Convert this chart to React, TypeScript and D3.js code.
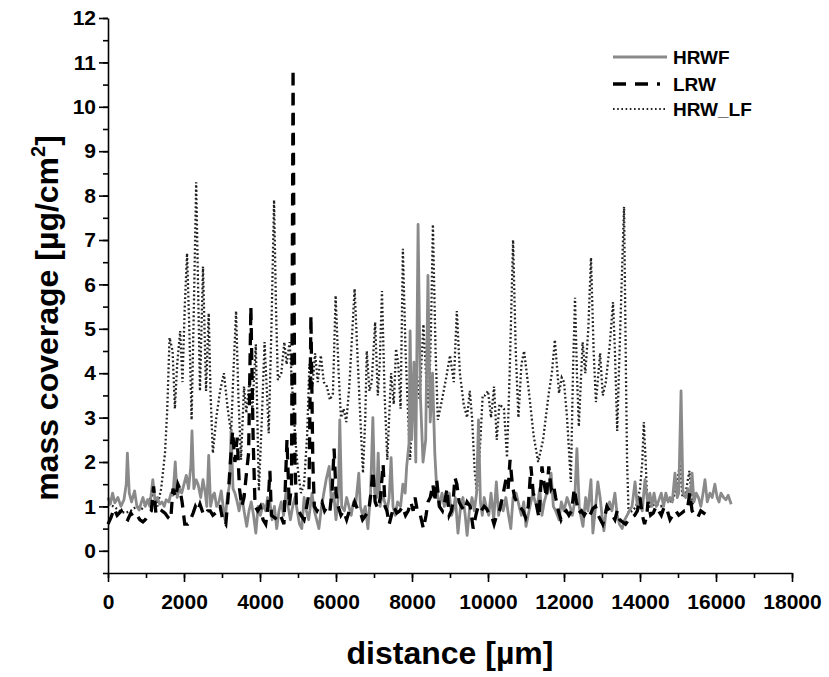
import { useEffect, useRef } from "react";
import * as d3 from "d3";

// [distance µm, mass coverage µg/cm2]
const hrwLF: [number, number][] = [
  [0, 1.05], [150, 1.0], [300, 0.9], [450, 0.85], [600, 0.9], [750, 1.0], [900, 0.95], [1050, 1.1],
  [1200, 1.3], [1300, 1.0], [1400, 1.4], [1500, 2.2], [1560, 3.2], [1620, 4.8], [1700, 4.5], [1760, 3.2],
  [1820, 4.2], [1900, 4.95], [1960, 3.8], [2020, 5.5], [2080, 6.7], [2140, 5.0], [2200, 2.95], [2260, 5.5],
  [2320, 8.3], [2380, 5.5], [2420, 3.6], [2500, 6.4], [2580, 3.6], [2650, 5.35], [2700, 3.5], [2760, 2.2],
  [2850, 3.0], [2950, 3.6], [3050, 4.0], [3150, 3.2], [3240, 2.65], [3300, 4.0], [3370, 5.4], [3430, 3.5],
  [3500, 2.05], [3580, 3.7], [3640, 3.1], [3720, 3.8], [3800, 3.2], [3890, 4.65], [3970, 1.35], [4050, 3.0],
  [4120, 4.7], [4180, 3.6], [4230, 2.65], [4300, 5.0], [4370, 7.9], [4420, 5.5], [4470, 3.85], [4560, 4.0],
  [4640, 4.7], [4700, 4.2], [4780, 4.7], [4860, 3.5], [4940, 2.4], [5000, 1.8], [5080, 1.3], [5160, 1.5],
  [5240, 2.6], [5300, 4.2], [5380, 3.7], [5450, 4.45], [5520, 3.8], [5600, 4.4], [5680, 3.8], [5760, 3.7],
  [5840, 3.4], [5920, 3.55], [5990, 5.75], [6070, 4.0], [6130, 3.0], [6200, 3.2], [6270, 2.9], [6350, 3.7],
  [6420, 4.8], [6490, 5.9], [6560, 4.5], [6640, 3.0], [6710, 1.75], [6770, 3.0], [6810, 4.5], [6880, 3.6],
  [6940, 3.8], [7030, 5.15], [7100, 3.5], [7150, 4.2], [7210, 5.85], [7280, 3.5], [7350, 2.05], [7450, 4.0],
  [7520, 3.3], [7580, 4.55], [7640, 4.2], [7700, 3.2], [7760, 6.8], [7830, 4.5], [7900, 3.0], [7950, 2.05],
  [8020, 3.3], [8100, 4.2], [8200, 3.4], [8300, 5.1], [8380, 3.8], [8440, 3.2], [8500, 5.0], [8550, 7.35],
  [8620, 4.5], [8680, 2.95], [8790, 3.4], [8900, 3.9], [9000, 4.4], [9100, 3.8], [9180, 5.4], [9260, 4.0],
  [9360, 3.3], [9450, 3.0], [9520, 3.6], [9580, 3.0], [9650, 1.8], [9710, 1.3], [9800, 2.5], [9860, 3.5],
  [9920, 3.5], [10000, 3.6], [10080, 3.0], [10160, 3.7], [10230, 2.5], [10300, 3.3], [10420, 3.2], [10500, 2.1],
  [10570, 4.0], [10660, 7.0], [10730, 4.5], [10800, 3.0], [10880, 4.2], [10950, 4.5], [11020, 4.0], [11100, 3.4],
  [11200, 2.6], [11320, 2.0], [11450, 2.5], [11520, 3.0], [11600, 3.55], [11680, 4.0], [11760, 4.75], [11870, 3.55],
  [11940, 3.9], [12000, 3.8], [12080, 3.0], [12180, 1.55], [12240, 4.15], [12290, 5.7], [12340, 4.0], [12390, 2.8],
  [12490, 4.7], [12560, 4.0], [12640, 5.0], [12710, 6.6], [12780, 4.5], [12840, 3.35], [12950, 4.45], [13020, 3.5],
  [13100, 3.8], [13200, 4.6], [13290, 5.6], [13340, 4.5], [13400, 2.7], [13480, 5.0], [13580, 7.75], [13630, 4.0],
  [13660, 2.0], [13700, 0.85], [13800, 0.9], [13900, 1.0], [14000, 1.4], [14060, 2.0], [14100, 2.9], [14150, 2.0],
  [14180, 1.3], [14260, 1.0], [14400, 1.05], [14550, 1.0], [14700, 1.15], [14850, 1.1], [14950, 1.4], [15050, 1.95],
  [15120, 1.2], [15200, 1.3], [15300, 1.8], [15350, 1.3], [15400, 1.0],
];

const hrwf: [number, number][] = [
  [0, 1.2], [60, 1.05], [120, 1.3], [180, 1.08], [260, 1.2], [340, 1.0], [420, 1.15], [480, 1.5], [510, 2.2],
  [560, 1.3], [620, 1.1], [700, 1.35], [760, 1.0], [820, 0.92], [880, 1.1], [920, 1.2], [980, 1.0], [1040, 1.15],
  [1100, 1.0], [1180, 1.6], [1240, 1.1], [1300, 1.2], [1360, 1.05], [1420, 1.1], [1480, 1.0], [1530, 1.15],
  [1600, 1.1], [1660, 1.3], [1710, 1.25], [1770, 2.0], [1820, 1.2], [1880, 1.4], [1940, 1.3], [2000, 1.5],
  [2060, 1.7], [2120, 1.4], [2180, 1.9], [2210, 2.7], [2260, 1.4], [2320, 1.6], [2370, 1.5], [2440, 1.2],
  [2500, 1.6], [2560, 1.3], [2600, 1.0], [2650, 2.15], [2700, 1.0], [2760, 1.25], [2800, 1.3], [2860, 1.0],
  [2920, 1.1], [2980, 1.35], [3030, 1.0], [3080, 0.7], [3140, 1.2], [3200, 1.5], [3240, 2.7], [3290, 1.4],
  [3340, 1.3], [3400, 1.1], [3450, 0.9], [3520, 1.25], [3580, 0.9], [3650, 0.55], [3710, 0.9], [3770, 1.1],
  [3830, 0.8], [3890, 0.4], [3950, 1.0], [4010, 0.8], [4080, 1.05], [4150, 0.9], [4200, 1.2], [4260, 1.1],
  [4320, 0.7], [4380, 1.0], [4440, 0.5], [4500, 0.9], [4560, 1.1], [4620, 0.8], [4680, 1.3], [4740, 1.0],
  [4800, 0.7], [4860, 1.0], [4920, 1.2], [4980, 0.9], [5040, 0.6], [5100, 0.5], [5160, 1.2], [5220, 0.9],
  [5280, 0.7], [5370, 1.3], [5430, 0.9], [5490, 0.7], [5550, 0.5], [5620, 1.0], [5680, 1.3], [5740, 1.6],
  [5820, 1.9], [5880, 1.1], [5940, 1.3], [6000, 0.7], [6060, 1.2], [6100, 2.95], [6150, 1.0], [6220, 0.9],
  [6280, 1.2], [6340, 1.0], [6400, 0.8], [6460, 1.1], [6520, 1.05], [6600, 1.75], [6640, 1.0], [6700, 0.8],
  [6770, 1.0], [6840, 0.5], [6910, 1.3], [6970, 3.0], [7020, 1.3], [7070, 1.2], [7110, 2.2], [7160, 1.0],
  [7220, 1.3], [7280, 1.1], [7340, 0.9], [7400, 1.2], [7450, 2.1], [7500, 1.0], [7560, 0.8], [7620, 1.1],
  [7700, 1.0], [7760, 1.5], [7820, 1.3], [7860, 1.9], [7920, 2.4], [7950, 4.95], [7990, 2.5], [8050, 4.25],
  [8100, 2.0], [8160, 7.35], [8220, 3.5], [8290, 2.0], [8360, 2.5], [8420, 6.2], [8480, 2.9], [8540, 4.0],
  [8600, 2.2], [8650, 1.4], [8720, 1.0], [8790, 1.3], [8850, 1.0], [8910, 1.1], [8980, 1.3], [9040, 0.8],
  [9080, 0.9], [9140, 1.2], [9210, 0.4], [9280, 1.0], [9340, 1.2], [9400, 0.8], [9450, 0.35], [9510, 0.9],
  [9580, 1.2], [9640, 0.9], [9700, 1.3], [9750, 2.95], [9800, 1.1], [9850, 0.8], [9900, 1.2], [9950, 1.0],
  [10020, 0.8], [10080, 1.3], [10150, 0.7], [10220, 1.55], [10280, 0.8], [10340, 1.1], [10400, 0.9], [10470, 1.2],
  [10540, 0.8], [10600, 0.5], [10660, 1.2], [10740, 1.3], [10820, 1.0], [10880, 0.8], [10940, 1.1], [11000, 0.55],
  [11080, 0.9], [11180, 1.3], [11240, 1.1], [11300, 1.0], [11360, 1.4], [11420, 0.8], [11480, 1.1], [11580, 1.4],
  [11660, 1.75], [11720, 1.0], [11780, 0.9], [11870, 0.7], [11930, 1.1], [12000, 0.9], [12080, 1.2], [12160, 1.0],
  [12220, 0.8], [12280, 1.1], [12340, 2.3], [12400, 1.0], [12440, 0.8], [12500, 0.55], [12570, 1.2], [12630, 0.9],
  [12710, 1.6], [12760, 0.4], [12820, 0.9], [12890, 1.55], [12950, 1.2], [13000, 0.8], [13050, 0.45], [13120, 1.0],
  [13200, 1.1], [13260, 0.9], [13340, 1.3], [13400, 0.8], [13460, 0.6], [13530, 0.5], [13600, 0.7], [13660, 0.8],
  [13720, 0.9], [13790, 1.0], [13870, 1.55], [13930, 1.0], [14000, 1.2], [14060, 0.9], [14130, 1.6], [14200, 1.1],
  [14260, 1.3], [14310, 1.0], [14370, 1.3], [14430, 1.0], [14500, 1.15], [14560, 1.3], [14620, 1.0], [14680, 1.3],
  [14740, 1.1], [14790, 1.2], [14850, 1.1], [14920, 1.75], [14980, 1.2], [15020, 1.3], [15080, 3.6], [15130, 1.3],
  [15200, 1.2], [15260, 1.4], [15310, 1.1], [15370, 1.75], [15420, 1.1], [15480, 1.3], [15540, 1.2], [15600, 1.0],
  [15660, 1.3], [15710, 1.6], [15770, 1.1], [15840, 1.3], [15900, 1.2], [15970, 1.5], [16030, 1.2], [16080, 1.1],
  [16130, 1.3], [16200, 1.2], [16260, 1.15], [16320, 1.25], [16400, 1.05],
];

const lrw: [number, number][] = [
  [0, 0.6], [80, 0.75], [160, 0.95], [240, 0.8], [350, 0.9], [430, 0.75], [520, 0.7], [600, 0.85], [680, 0.75],
  [760, 0.8], [840, 0.7], [920, 0.65], [980, 0.7], [1060, 0.8], [1140, 0.9], [1200, 1.45], [1260, 0.85],
  [1340, 0.8], [1420, 0.9], [1500, 0.85], [1580, 0.75], [1650, 0.7], [1710, 1.4], [1780, 1.2], [1840, 1.5],
  [1890, 1.4], [1950, 1.1], [2020, 0.6], [2100, 0.6], [2170, 0.7], [2240, 0.85], [2300, 1.0], [2360, 0.9],
  [2420, 1.05], [2500, 0.85], [2560, 0.8], [2620, 0.9], [2690, 0.9], [2760, 0.8], [2830, 0.85], [2900, 1.0],
  [2950, 1.0], [3020, 0.7], [3100, 0.6], [3160, 1.2], [3220, 2.0], [3280, 2.7], [3340, 2.0], [3400, 2.55],
  [3460, 1.4], [3520, 1.0], [3580, 1.2], [3650, 1.8], [3700, 2.2], [3760, 5.5], [3820, 2.5], [3870, 1.0],
  [3940, 0.9], [4010, 1.0], [4080, 0.7], [4150, 0.6], [4210, 1.0], [4260, 1.8], [4300, 0.8], [4380, 0.75],
  [4450, 0.7], [4540, 0.8], [4630, 0.6], [4710, 2.5], [4770, 1.0], [4830, 1.5], [4870, 10.85], [4920, 2.0],
  [4960, 1.0], [5020, 0.9], [5080, 0.8], [5160, 0.7], [5230, 1.0], [5290, 1.3], [5340, 5.3], [5390, 2.0],
  [5430, 1.0], [5500, 0.9], [5560, 1.0], [5630, 1.1], [5700, 0.9], [5770, 1.0], [5840, 0.9], [5900, 1.4],
  [5950, 2.3], [6000, 1.3], [6060, 1.0], [6130, 0.8], [6200, 0.9], [6280, 0.7], [6350, 0.9], [6420, 0.9],
  [6490, 1.1], [6560, 0.95], [6630, 0.9], [6700, 0.7], [6780, 0.8], [6860, 0.9], [6920, 1.3], [6970, 1.8],
  [7030, 1.1], [7100, 0.95], [7170, 1.2], [7240, 1.95], [7290, 1.0], [7340, 0.9], [7400, 0.6], [7460, 0.8],
  [7520, 1.0], [7600, 0.85], [7680, 0.9], [7750, 1.0], [7830, 0.8], [7900, 0.9], [7970, 1.1], [8030, 0.9],
  [8080, 1.2], [8140, 0.9], [8220, 0.8], [8300, 0.5], [8370, 0.8], [8420, 1.1], [8480, 1.2], [8550, 1.5],
  [8600, 1.1], [8650, 1.6], [8720, 1.0], [8800, 0.9], [8860, 1.1], [8920, 1.4], [8980, 0.8], [9040, 0.9],
  [9090, 1.2], [9130, 1.65], [9180, 1.5], [9240, 1.1], [9300, 1.0], [9380, 0.9], [9450, 1.1], [9530, 1.0],
  [9610, 0.5], [9680, 0.8], [9740, 1.0], [9820, 0.9], [9900, 1.0], [9960, 0.95], [10020, 0.85], [10090, 0.8],
  [10160, 0.6], [10230, 0.8], [10300, 0.9], [10380, 1.2], [10470, 1.6], [10530, 1.4], [10580, 2.05], [10640, 1.5],
  [10700, 1.2], [10760, 1.1], [10830, 1.0], [10920, 0.9], [10990, 0.75], [11060, 1.0], [11130, 1.9], [11190, 1.3],
  [11260, 1.1], [11340, 0.75], [11420, 1.9], [11480, 1.5], [11540, 1.2], [11600, 1.9], [11660, 1.4], [11720, 1.5],
  [11780, 1.2], [11850, 0.9], [11920, 0.7], [11990, 0.85], [12060, 0.9], [12130, 0.8], [12200, 0.9], [12270, 1.4],
  [12330, 1.1], [12390, 0.85], [12460, 0.9], [12530, 0.8], [12600, 0.9], [12680, 0.8], [12760, 0.95], [12830, 1.0],
  [12900, 0.8], [12960, 0.7], [13020, 0.6], [13080, 0.8], [13130, 1.0], [13200, 0.9], [13270, 0.8], [13340, 0.7],
  [13400, 0.9], [13470, 0.7], [13540, 0.65], [13620, 0.6], [13700, 0.7], [13780, 0.75], [13860, 0.8], [13930, 0.9],
  [14000, 1.2], [14060, 0.8], [14120, 0.6], [14180, 0.8], [14210, 1.1], [14280, 0.8], [14350, 0.85], [14420, 1.0],
  [14490, 0.9], [14560, 0.8], [14640, 1.0], [14720, 0.9], [14790, 0.7], [14860, 0.8], [14940, 0.9], [15020, 0.8],
  [15100, 0.85], [15170, 0.9], [15240, 0.9], [15310, 1.3], [15370, 0.9], [15440, 0.8], [15520, 0.75], [15600, 0.9],
  [15680, 0.85], [15760, 0.8],
];

const xTicks = [0, 2000, 4000, 6000, 8000, 10000, 12000, 14000, 16000, 18000];
const yTicks = [0, 1, 2, 3, 4, 5, 6, 7, 8, 9, 10, 11, 12];

const FONT = "'Liberation Sans', Arial, sans-serif";

export default function App() {
  const ref = useRef<SVGSVGElement>(null);

  useEffect(() => {
    const svg = d3.select(ref.current);
    svg.selectAll("*").remove();

    const width = 829;
    const height = 677;
    svg.attr("width", width).attr("height", height);

    const x = d3.scaleLinear().domain([0, 18000]).range([108, 792]);
    const y = d3.scaleLinear().domain([-0.5, 12]).range([573, 18]);

    const line = d3.line<[number, number]>()
      .x((d) => x(d[0]))
      .y((d) => y(d[1]));

    // series
    svg.append("path").datum(hrwLF)
      .attr("d", line).attr("fill", "none")
      .attr("stroke", "#222").attr("stroke-width", 2.3)
      .attr("stroke-dasharray", "1.8 2.4");

    svg.append("path").datum(hrwf)
      .attr("d", line).attr("fill", "none")
      .attr("stroke", "#8a8a8a").attr("stroke-width", 2.8)
      .attr("stroke-linejoin", "round");

    svg.append("path").datum(lrw)
      .attr("d", line).attr("fill", "none")
      .attr("stroke", "#000").attr("stroke-width", 3.3)
      .attr("stroke-dasharray", "12 8");

    // axes
    const gx = svg.append("g").attr("transform", `translate(0,${y(-0.5)})`);
    gx.call(d3.axisBottom(x).tickValues(d3.range(0, 18001, 1000)).tickSize(5).tickFormat(() => ""));
    gx.call((g) => g.select(".domain").remove());
    gx.append("g").call(d3.axisBottom(x).tickValues(xTicks).tickSize(9).tickSizeOuter(0).tickFormat(d3.format("d")))
      .call((g) => g.selectAll("text")
        .attr("font-family", FONT).attr("font-weight", "bold").attr("font-size", 21)
        .attr("fill", "#000").attr("dy", "1.15em"));
    gx.selectAll("line").attr("stroke", "#000").attr("stroke-width", 1.6);
    gx.selectAll(".domain").attr("stroke", "#000").attr("stroke-width", 1.6);

    const gy = svg.append("g").attr("transform", `translate(${x(0)},0)`);
    gy.call(d3.axisLeft(y).tickValues(d3.range(-0.5, 12.01, 0.5)).tickSize(5).tickFormat(() => ""));
    gy.call((g) => g.select(".domain").remove());
    gy.append("g").call(d3.axisLeft(y).tickValues(yTicks).tickSize(9).tickSizeOuter(0).tickFormat(d3.format("d")))
      .call((g) => g.selectAll("text")
        .attr("font-family", FONT).attr("font-weight", "bold").attr("font-size", 21)
        .attr("fill", "#000").attr("x", -12));
    gy.selectAll("line").attr("stroke", "#000").attr("stroke-width", 1.6);
    gy.selectAll(".domain").attr("stroke", "#000").attr("stroke-width", 1.6);

    // axis titles
    svg.append("text")
      .attr("x", 450).attr("y", 664)
      .attr("text-anchor", "middle")
      .attr("font-family", FONT).attr("font-weight", "bold").attr("font-size", 32)
      .text("distance [µm]");

    const yt = svg.append("text")
      .attr("transform", "translate(58,318) rotate(-90)")
      .attr("text-anchor", "middle")
      .attr("font-family", FONT).attr("font-weight", "bold").attr("font-size", 32);
    yt.append("tspan").text("mass coverage [µg/cm");
    yt.append("tspan").attr("font-size", 20).attr("dy", -13).text("2");
    yt.append("tspan").attr("dy", 13).text("]");

    // legend
    const legend = [
      { name: "HRWF", y: 57, stroke: "#8a8a8a", w: 2.8, dash: null as string | null, x2: 667 },
      { name: "LRW", y: 84, stroke: "#000", w: 3.3, dash: "13 9", x2: 660 },
      { name: "HRW_LF", y: 109, stroke: "#222", w: 2, dash: "1.6 2.6", x2: 667 },
    ];
    const lg = svg.append("g");
    legend.forEach((l) => {
      lg.append("line")
        .attr("x1", 613).attr("x2", l.x2).attr("y1", l.y).attr("y2", l.y)
        .attr("stroke", l.stroke).attr("stroke-width", l.w)
        .attr("stroke-dasharray", l.dash);
      lg.append("text")
        .attr("x", 673).attr("y", l.y).attr("dy", "0.36em")
        .attr("font-family", FONT).attr("font-weight", "bold").attr("font-size", 19)
        .text(l.name);
    });
  }, []);

  return (
    <div style={{ position: "absolute", left: 0, top: 0, background: "#fff" }}>
      <svg ref={ref} style={{ display: "block" }}></svg>
    </div>
  );
}
